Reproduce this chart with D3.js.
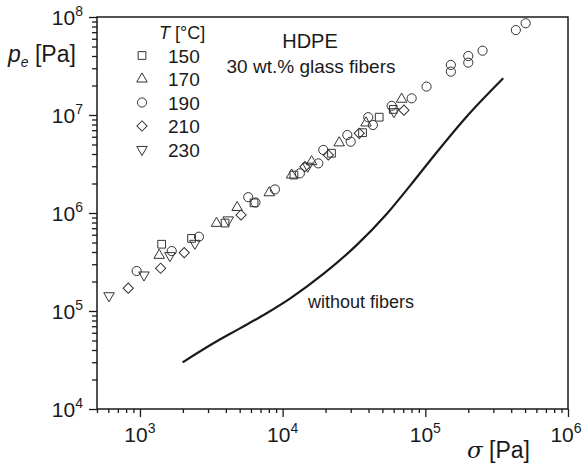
<!DOCTYPE html>
<html>
<head>
<meta charset="utf-8">
<script src="https://cdn.jsdelivr.net/npm/d3@7"></script>
<style>
  html, body { margin: 0; padding: 0; background: #fff; }
  svg { display: block; font-family: "Liberation Sans", Arial, sans-serif; }
</style>
</head>
<body>
<svg id="chart" width="582" height="471"></svg>
<script>
// ---- data ----
const xMajorTicks = [1e3, 1e4, 1e5, 1e6];
const xTickExponents = ["3", "4", "5", "6"];
const yMajorTicks = [1e4, 1e5, 1e6, 1e7, 1e8];
const yTickExponents = ["4", "5", "6", "7", "8"];

const temperatures = ["150", "170", "190", "210", "230"];

const sigma150 = [1420, 2300, 3950, 6300, 12000, 22000, 36300, 47500, 59600];
const pe150    = [4.8e5, 5.5e5, 7.9e5, 1.27e6, 2.44e6, 4.07e6, 6.6e6, 9.5e6, 1.14e7];

const sigma170 = [1365, 3440, 4800, 8060, 11560, 15960, 24900, 38400, 68200];
const pe170    = [3.7e5, 7.85e5, 1.14e6, 1.61e6, 2.44e6, 3.34e6, 5.2e6, 8.3e6, 1.45e7];

const sigma190 = [948, 1670, 2590, 5740, 6450, 8830, 13200, 17780, 19270, 28400, 30000, 39800, 42900,
                  58100, 80200, 102000, 151000, 151000, 200000, 200000, 252000, 431000, 505000];
const pe190    = [2.56e5, 4.09e5, 5.73e5, 1.45e6, 1.28e6, 1.74e6, 2.54e6, 3.21e6, 4.4e6, 6.25e6, 5.34e6, 9.5e6, 7.9e6,
                  1.24e7, 1.48e7, 1.95e7, 3.24e7, 2.77e7, 4.0e7, 3.42e7, 4.53e7, 7.36e7, 8.63e7];

const sigma210 = [828, 1396, 2043, 5107, 14330, 20900, 34400, 70800];
const pe210    = [1.71e5, 2.73e5, 3.94e5, 9.55e5, 2.97e6, 3.91e6, 6.5e6, 1.12e7];

const sigma230 = [607, 1067, 1622, 2427, 4160, 15000, 60300];
const pe230    = [1.43e5, 2.33e5, 3.67e5, 4.9e5, 8.5e5, 3.0e6, 1.08e7];

const lineSigma = [1990, 3270, 5020, 7720, 11250, 19300, 33000, 53600, 78000, 113500, 194500, 351500];
const linePe    = [2.99e4, 4.68e4, 6.65e4, 9.5e4, 1.34e5, 2.39e5, 4.7e5, 9.77e5, 1.89e6, 3.75e6, 9.6e6, 2.37e7];

// ---- layout ----
const W = 582, H = 471;
const m = { left: 97, top: 17, right: 14, bottom: 62 };
const pw = W - m.left - m.right;   // 471
const ph = H - m.top - m.bottom;   // 392

const svg = d3.select("#chart");
const g = svg.append("g").attr("transform", `translate(${m.left},${m.top})`);

const x = d3.scaleLog().domain([500, 1e6]).range([0, pw]);
const y = d3.scaleLog().domain([1e4, 1e8]).range([ph, 0]);

const ink = "#1a1a1a";

// minor ticks
function minorTicks(domain) {
  const out = [];
  const lo = Math.floor(Math.log10(domain[0])), hi = Math.ceil(Math.log10(domain[1]));
  for (let e = lo; e < hi; e++) {
    for (let k = 2; k <= 9; k++) {
      const v = k * Math.pow(10, e);
      if (v >= domain[0] && v <= domain[1]) out.push(v);
    }
  }
  return out;
}

// x axis
const xAxisMinor = d3.axisBottom(x).tickValues(minorTicks(x.domain())).tickSize(4).tickFormat("");
const xAxisMajor = d3.axisBottom(x).tickValues(xMajorTicks).tickSize(8).tickFormat("");
const gx1 = g.append("g").attr("transform", `translate(0,${ph})`).call(xAxisMinor);
const gx2 = g.append("g").attr("transform", `translate(0,${ph})`).call(xAxisMajor);
[gx1, gx2].forEach(a => {
  a.select(".domain").remove();
  a.selectAll("line").attr("stroke", ink).attr("stroke-width", 1.3);
});

// y axis
const yAxisMinor = d3.axisLeft(y).tickValues(minorTicks(y.domain())).tickSize(5).tickFormat("");
const yAxisMajor = d3.axisLeft(y).tickValues(yMajorTicks).tickSize(8).tickFormat("");
const gy1 = g.append("g").call(yAxisMinor);
const gy2 = g.append("g").call(yAxisMajor);
[gy1, gy2].forEach(a => {
  a.select(".domain").remove();
  a.selectAll("line").attr("stroke", ink).attr("stroke-width", 1.3);
});

// frame
g.append("rect").attr("x", 0).attr("y", 0).attr("width", pw).attr("height", ph)
  .attr("fill", "none").attr("stroke", ink).attr("stroke-width", 1.5);

// tick labels
const tickFont = 21, supFont = 14;
xMajorTicks.forEach((v, i) => {
  const last = i === xMajorTicks.length - 1;
  const t = g.append("text").attr("x", x(v) - (last ? 2 : 0)).attr("y", ph + 33)
    .attr("text-anchor", "middle").attr("fill", ink).attr("font-size", tickFont);
  t.append("tspan").text("10");
  t.append("tspan").attr("font-size", supFont).attr("dy", -9).text(xTickExponents[i]);
});
yMajorTicks.forEach((v, i) => {
  const t = g.append("text").attr("x", -14).attr("y", y(v) + 8)
    .attr("text-anchor", "end").attr("fill", ink).attr("font-size", tickFont);
  t.append("tspan").text("10");
  t.append("tspan").attr("font-size", supFont).attr("dy", -9).text(yTickExponents[i]);
});

// axis titles
const yt = svg.append("text").attr("x", 8).attr("y", 62).attr("fill", ink).attr("font-size", 23);
yt.append("tspan").attr("font-style", "italic").text("p");
yt.append("tspan").attr("font-style", "italic").attr("font-size", 14).attr("dy", 5).text("e");
yt.append("tspan").attr("dy", -5).text(" [Pa]");

const xt = svg.append("text").attr("x", 467).attr("y", 458).attr("fill", ink).attr("font-size", 23);
xt.append("tspan").attr("font-family", "'DejaVu Serif', 'Liberation Serif', serif").attr("font-style", "italic").text("σ");
xt.append("tspan").text(" [Pa]");

// annotations
svg.append("text").attr("x", 310).attr("y", 48).attr("text-anchor", "middle")
  .attr("fill", ink).attr("font-size", 20).text("HDPE");
svg.append("text").attr("x", 311).attr("y", 73).attr("text-anchor", "middle")
  .attr("fill", ink).attr("font-size", 19).text("30 wt.% glass fibers");
svg.append("text").attr("x", 308).attr("y", 308)
  .attr("fill", ink).attr("font-size", 18).text("without fibers");

// curve without fibers
const lineData = lineSigma.map((s, i) => [s, linePe[i]]);
g.append("path").datum(lineData)
  .attr("fill", "none").attr("stroke", ink).attr("stroke-width", 2.2)
  .attr("d", d3.line().x(d => x(d[0])).y(d => y(d[1])).curve(d3.curveMonotoneX));

// markers
const shapes = [
  { type: d3.symbolSquare, size: 60, rot: 0 },
  { type: d3.symbolTriangle, size: 48, rot: 0 },
  { type: d3.symbolCircle, size: 66, rot: 0 },
  { type: d3.symbolSquare, size: 52, rot: 45 },
  { type: d3.symbolTriangle, size: 48, rot: 180 }
];
const seriesX = [sigma150, sigma170, sigma190, sigma210, sigma230];
const seriesY = [pe150, pe170, pe190, pe210, pe230];

seriesX.forEach((xs, si) => {
  const sh = shapes[si];
  const pts = xs.map((s, i) => [s, seriesY[si][i]]);
  g.append("g").selectAll("path").data(pts).join("path")
    .attr("d", d3.symbol().type(sh.type).size(sh.size)())
    .attr("transform", d => `translate(${x(d[0])},${y(d[1])}) rotate(${sh.rot})`)
    .attr("fill", "none").attr("stroke", "#333").attr("stroke-width", 1);
});

// legend
const leg = svg.append("g");
const lt = leg.append("text").attr("x", 159).attr("y", 39).attr("fill", ink).attr("font-size", 18);
lt.append("tspan").attr("font-style", "italic").text("T");
lt.append("tspan").text(" [°C]");
temperatures.forEach((t, i) => {
  const by = 62.5 + i * 23.5;
  const sh = shapes[i];
  leg.append("path")
    .attr("d", d3.symbol().type(sh.type).size(sh.size)())
    .attr("transform", `translate(142,${by - 7}) rotate(${sh.rot})`)
    .attr("fill", "none").attr("stroke", "#333").attr("stroke-width", 1);
  leg.append("text").attr("x", 168).attr("y", by).attr("fill", ink).attr("font-size", 19).text(t);
});
</script>
</body>
</html>
